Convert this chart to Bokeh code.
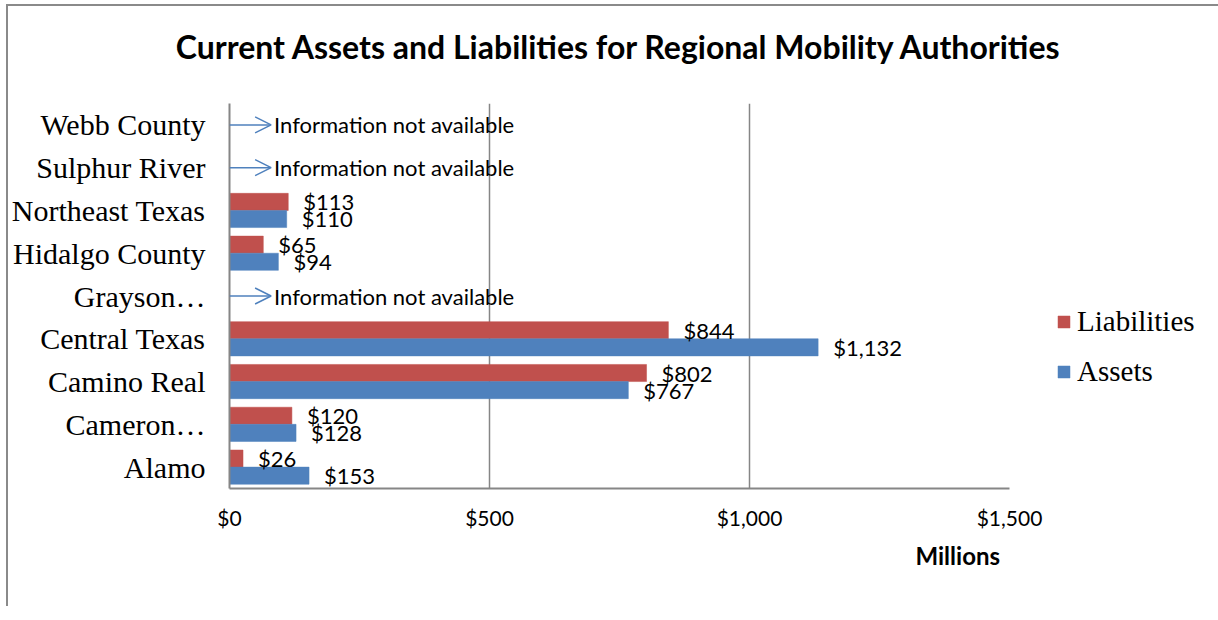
from bokeh.plotting import figure
from bokeh.models import (ColumnDataSource, FactorRange, Range1d, Legend, LegendItem,
                          Title, FixedTicker, Arrow, OpenHead)
from bokeh.transform import dodge
from bokeh.core.properties import value
from bokeh.embed import file_html
from bokeh.resources import INLINE

# ---- data ----
categories = ["Alamo", "Cameron…", "Camino Real", "Central Texas", "Grayson…",
              "Hidalgo County", "Northeast Texas", "Sulphur River", "Webb County"]
liabilities = [26, 120, 802, 844, None, 65, 113, None, None]
assets = [153, 128, 767, 1132, None, 94, 110, None, None]
x_ticks = [0, 500, 1000, 1500]
x_tick_labels = ["$0", "$500", "$1,000", "$1,500"]
title_text = "Current Assets and Liabilities for Regional Mobility Authorities"
note_text = "Information not available"
series_names = ["Liabilities", "Assets"]

RED = "#C0504D"
BLUE = "#4F81BD"
GRID = "#868686"

def fmt(v):
    return "$" + format(v, ",")

lia = [(c, v) for c, v in zip(categories, liabilities) if v is not None]
ast = [(c, v) for c, v in zip(categories, assets) if v is not None]
missing = [c for c, a, l in zip(categories, assets, liabilities) if a is None and l is None]

src_l = ColumnDataSource(dict(cat=[c for c, _ in lia], val=[v for _, v in lia],
                              lab=[fmt(v) for _, v in lia]))
src_a = ColumnDataSource(dict(cat=[c for c, _ in ast], val=[v for _, v in ast],
                              lab=[fmt(v) for _, v in ast]))

p = figure(y_range=FactorRange(factors=categories), x_range=Range1d(0, 1500),
           frame_width=780, frame_height=385,
           min_border_left=220, min_border_right=200, min_border_top=97, min_border_bottom=118,
           output_backend="svg", toolbar_location=None)
p.outline_line_color = None
p.background_fill_color = "white"
p.border_fill_color = "white"

rl = p.hbar(y=dodge("cat", 0.2, range=p.y_range), right="val", left=0, height=0.4,
            source=src_l, fill_color=RED, line_color=RED, line_width=0.5)
ra = p.hbar(y=dodge("cat", -0.2, range=p.y_range), right="val", left=0, height=0.4,
            source=src_a, fill_color=BLUE, line_color=BLUE, line_width=0.5)

lab_font = value("Lato")
p.text(x="val", y=dodge("cat", 0.2, range=p.y_range), text="lab", source=src_l,
       x_offset=15, text_baseline="middle", text_align="left",
       text_font=lab_font, text_font_size="22px", text_color="black")
p.text(x="val", y=dodge("cat", -0.2, range=p.y_range), text="lab", source=src_a,
       x_offset=15, text_baseline="middle", text_align="left",
       text_font=lab_font, text_font_size="22px", text_color="black")

# "Information not available" notes with arrows
src_m = ColumnDataSource(dict(cat=missing, xs=[0] * len(missing), xe=[80] * len(missing),
                              lab=[note_text] * len(missing)))
p.add_layout(Arrow(x_start="xs", y_start="cat", x_end="xe", y_end="cat", source=src_m,
                   line_color=BLUE, line_width=1.5,
                   end=OpenHead(size=16, line_color=BLUE, line_width=1.5)))
p.text(x="xe", y="cat", text="lab", source=src_m, x_offset=3, text_baseline="middle",
       text_align="left", text_font=lab_font, text_font_size="22px", text_color="black")

# axes
p.xaxis.ticker = FixedTicker(ticks=x_ticks)
p.xaxis.major_label_overrides = {t: l for t, l in zip(x_ticks, x_tick_labels)}
p.xaxis.major_label_text_font = "Lato"
p.xaxis.major_label_text_font_size = "21px"
p.xaxis.major_label_text_color = "black"
p.xaxis.major_label_standoff = 16
p.xaxis.major_tick_line_color = None
p.xaxis.minor_tick_line_color = None
p.xaxis.major_tick_out = 0
p.xaxis.axis_line_color = GRID
p.xaxis.axis_line_width = 2

p.yaxis.major_label_text_font = "Liberation Serif"
p.yaxis.major_label_text_font_size = "30px"
p.yaxis.major_label_text_color = "black"
p.yaxis.major_label_standoff = 24
p.yaxis.major_tick_line_color = None
p.yaxis.major_tick_out = 0
p.yaxis.axis_line_color = GRID
p.yaxis.axis_line_width = 2

p.xgrid.grid_line_color = GRID
p.xgrid.grid_line_width = 1.5
p.ygrid.grid_line_color = None

# title: a spacer title sits between the frame and the real title
p.title.text = ""
spacer = Title(text=" ", text_font_size="10px", standoff=20)
p.add_layout(spacer, "above")
main_title = Title(text=title_text, align="center", vertical_align="bottom",
                   text_font="Lato", text_font_style="bold", text_font_size="32px",
                   text_color="black", standoff=10)
p.add_layout(main_title, "above")

mt = Title(text="Millions", align="left", offset=686, text_font="Lato",
           text_font_style="bold", text_font_size="24px", text_color="black", standoff=13)
p.add_layout(mt, "below")

legend = Legend(items=[LegendItem(label=series_names[0], renderers=[rl]),
                       LegendItem(label=series_names[1], renderers=[ra])],
                location=(47, 100), padding=0, margin=0, spacing=17,
                glyph_width=15, glyph_height=15, label_standoff=6,
                label_text_font="Liberation Serif", label_text_font_size="29px",
                label_text_color="black", border_line_color=None,
                background_fill_alpha=0)
p.add_layout(legend, "right")

p.styles = {"margin-left": "6px", "margin-top": "4px",
            "border-left": "2px solid #8a8a8a", "border-top": "2px solid #8a8a8a"}

open("out.html", "w").write(file_html(p, INLINE))
